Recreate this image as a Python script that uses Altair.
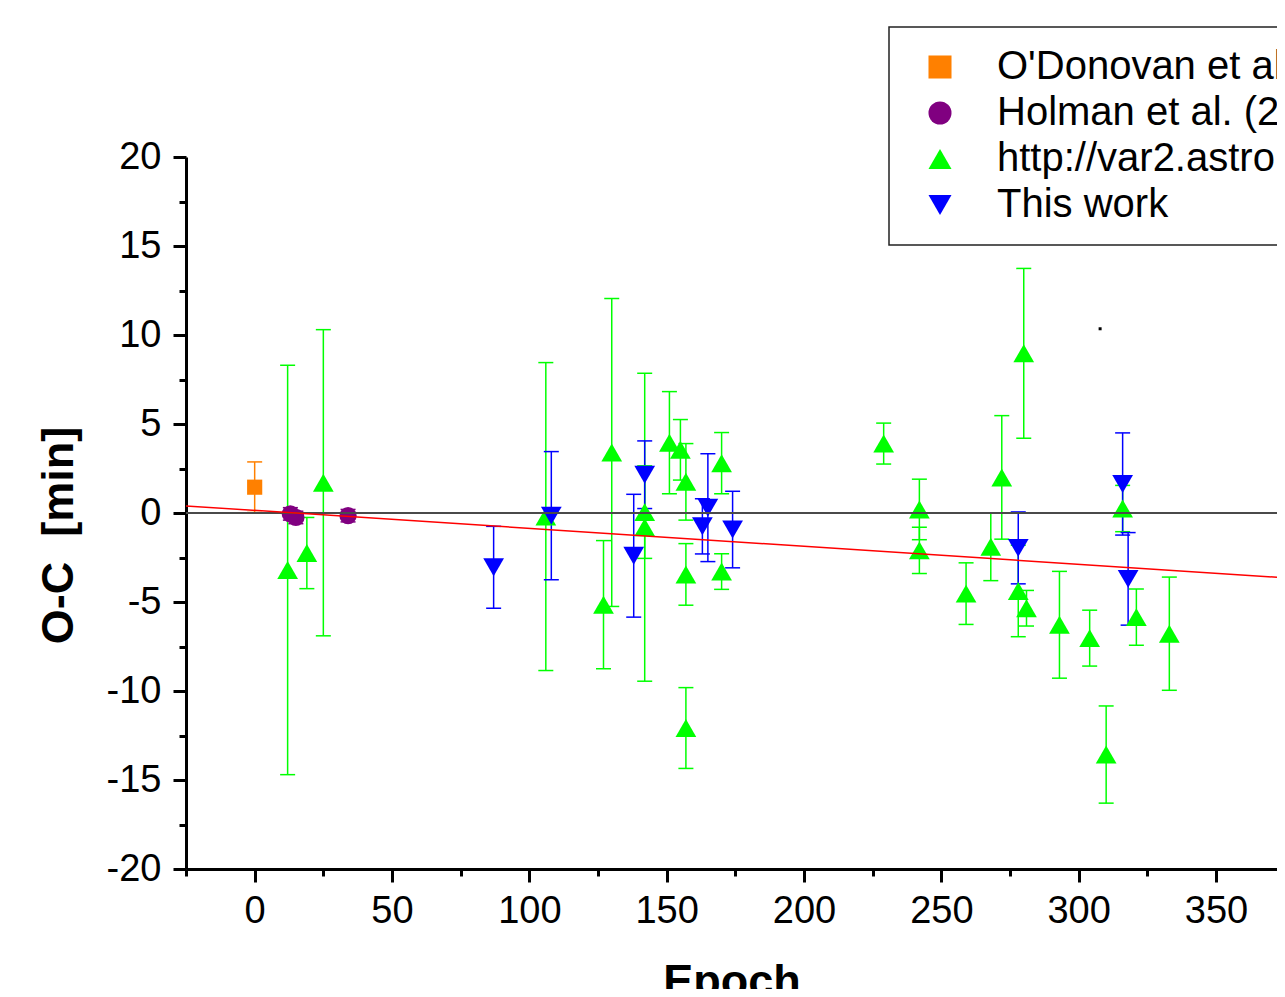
import altair as alt
import pandas as pd

# ---------------- data ----------------
sources = ["O'Donovan et al. (2006)", "Holman et al. (2007)",
           "http://var2.astro.cz/ETD", "This work"]

odon_epoch = [0]
odon_oc = [1.45]
odon_err = [1.42]

holman_epoch = [13, 15, 34]
holman_oc = [-0.05, -0.25, -0.15]
holman_err = [0.35, 0.35, 0.35]

etd_epoch = [12, 19, 25, 106, 127, 130, 142, 142, 151, 155, 157, 157, 157, 170, 170,
             229, 242, 242, 259, 268, 272, 278, 280, 281, 293, 304, 310, 316, 321, 333]
etd_oc = [-3.2, -2.25, 1.7, -0.2, -5.15, 3.4, 0.05, -0.8, 3.95, 3.55, 1.75, -3.45, -12.08, 2.8, -3.29,
          3.9, 0.2, -2.1, -4.53, -1.9, 2.0, -4.38, 8.97, -5.35, -6.28, -7.03, -13.57, 0.25, -5.85, -6.78]
etd_err = [11.5, 2.0, 8.6, 8.65, 3.6, 8.65, 2.6, 8.65, 2.87, 1.7, 2.15, 1.73, 2.27, 1.72, 1.0,
           1.15, 1.7, 1.3, 1.73, 1.9, 3.47, 2.57, 4.77, 1.0, 3.0, 1.57, 2.73, 1.3, 1.58, 3.18]

this_epoch = [87, 108, 138, 142, 163, 165, 174, 278, 316, 318]
this_oc = [-3.05, -0.15, -2.4, 2.15, -0.75, 0.3, -0.93, -1.96, 1.63, -3.7]
this_err = [2.3, 3.6, 3.45, 1.9, 1.55, 3.03, 2.15, 2.02, 2.87, 2.6]

fit_epoch = [-25, 372.2]
fit_oc = [0.40, -3.61]

zero_level = [0]

stray_epoch = [307.8]
stray_oc = [10.35]

x_major = [0, 50, 100, 150, 200, 250, 300, 350]
x_minor = [-25, 25, 75, 125, 175, 225, 275, 325]
y_major = [-20, -15, -10, -5, 0, 5, 10, 15, 20]
y_minor = [-17.5, -12.5, -7.5, -2.5, 2.5, 7.5, 12.5, 17.5]

# ---------------- styles ----------------
colors = ["#ff8000", "#800080", "#00ff00", "#0000ff"]
shapes = ["square", "circle", "triangle-up", "triangle-down"]
marker_size = {sources[0]: 230, sources[1]: 300, sources[2]: 430, sources[3]: 430}
FONT = "Liberation Sans"

series = [
    (sources[0], odon_epoch, odon_oc, odon_err, colors[0]),
    (sources[1], holman_epoch, holman_oc, holman_err, colors[1]),
    (sources[2], etd_epoch, etd_oc, etd_err, colors[2]),
    (sources[3], this_epoch, this_oc, this_err, colors[3]),
]

rows = []
for name, ep, oc, er, col in series:
    for e, o, r in zip(ep, oc, er):
        rows.append({"source": name, "epoch": e, "oc": o,
                     "lo": o - r, "hi": o + r, "ecol": col,
                     "msize": marker_size[name]})
pts = pd.DataFrame(rows)

caps = pd.concat([
    pts[["epoch", "ecol"]].assign(capy=pts["lo"]),
    pts[["epoch", "ecol"]].assign(capy=pts["hi"]),
], ignore_index=True)

fit = pd.DataFrame({"epoch": fit_epoch, "oc": fit_oc})
zero = pd.DataFrame({"oc": zero_level})
stray = pd.DataFrame({"epoch": stray_epoch, "oc": stray_oc})

xscale = alt.Scale(domain=[-25, 372.2], nice=False, zero=False)
yscale = alt.Scale(domain=[-20, 20], nice=False, zero=False)

x_axis = alt.Axis(
    values=sorted(x_major + x_minor),
    tickSize={"condition": {"test": "datum.value % 50 === 0", "value": 13}, "value": 7},
    labelExpr="datum.value % 50 === 0 ? '' + datum.value : ''",
    labelPadding=10, labelFlush=False, labelOverlap=False,
    title="Epoch", titleY=126, titleBaseline="alphabetic",
)
y_axis = alt.Axis(
    values=sorted(y_major + y_minor),
    tickSize={"condition": {"test": "datum.value % 5 === 0", "value": 13}, "value": 7},
    labelExpr="datum.value % 5 === 0 ? '' + datum.value : ''",
    labelPadding=12, labelFlush=False, labelOverlap=False,
    title="O-C\u00a0 [min]", titleX=-114, titleY=378, titleBaseline="alphabetic",
)

legend = alt.Legend(title=None, orient="none", legendX=703, legendY=-130,
                    symbolSize=530)

errbars = alt.Chart(pts).mark_rule(strokeWidth=1.5).encode(
    x=alt.X("epoch:Q", scale=xscale, axis=x_axis),
    y=alt.Y("lo:Q", scale=yscale, axis=y_axis),
    y2="hi:Q",
    stroke=alt.Stroke("ecol:N", scale=None),
)

capmarks = alt.Chart(caps).mark_rule(strokeWidth=1.5, xOffset=-7.5, x2Offset=7.5).encode(
    x=alt.X("epoch:Q", scale=xscale),
    x2="epoch:Q",
    y=alt.Y("capy:Q", scale=yscale),
    stroke=alt.Stroke("ecol:N", scale=None),
)

points = alt.Chart(pts).mark_point(filled=True, opacity=1, strokeWidth=0).encode(
    x=alt.X("epoch:Q", scale=xscale),
    y=alt.Y("oc:Q", scale=yscale),
    color=alt.Color("source:N", scale=alt.Scale(domain=sources, range=colors), legend=legend),
    shape=alt.Shape("source:N", scale=alt.Scale(domain=sources, range=shapes), legend=legend),
    size=alt.Size("msize:Q", scale=None),
)

dot = alt.Chart(stray).mark_square(color="black", size=9, opacity=1).encode(
    x=alt.X("epoch:Q", scale=xscale),
    y=alt.Y("oc:Q", scale=yscale),
)

zline = alt.Chart(zero).mark_rule(color="#4a4a4a", strokeWidth=2).encode(
    y=alt.Y("oc:Q", scale=yscale),
)

fline = alt.Chart(fit).mark_line(color="#ff0000", strokeWidth=1.5).encode(
    x=alt.X("epoch:Q", scale=xscale),
    y=alt.Y("oc:Q", scale=yscale),
)

chart = alt.layer(errbars, capmarks, points, dot, zline, fline).properties(
    width=1091,
    height=712,
    autosize=alt.AutoSizeParams(type="none"),
    padding={"left": 178, "top": 149, "right": 0, "bottom": 120},
).configure_view(
    stroke=None
).configure_axis(
    domainColor="black", domainWidth=3, tickColor="black", tickWidth=3, grid=False,
    labelFont=FONT, labelFontSize=38, labelColor="black",
    titleFont=FONT, titleFontSize=45, titleFontWeight="bold", titleColor="black",
).configure_legend(
    labelFont=FONT, labelFontSize=40, labelColor="black", labelLimit=3000,
    symbolSize=530, symbolStrokeWidth=0, symbolOpacity=1,
    padding=20, rowPadding=6, symbolOffset=11, labelOffset=37,
    strokeColor="#222222", strokeWidth=1.5, fillColor="white",
)

chart.save("out.html", embed_options={"renderer": "svg", "actions": False})
